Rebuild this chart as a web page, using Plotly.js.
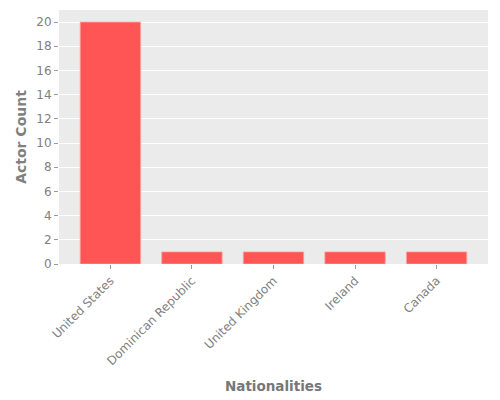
<!DOCTYPE html>
<html>
<head>
<script src="https://cdn.plot.ly/plotly-3.0.1.min.js"></script>
<style>body{margin:0;padding:0;}#chart{width:500px;height:400px;}</style>
</head>
<body>
<div id="chart"></div>
<script>
const nationalities = ["United States", "Dominican Republic", "United Kingdom", "Ireland", "Canada"];
const actorCounts = [20, 1, 1, 1, 1];

const trace = {
  type: "bar",
  x: nationalities,
  y: actorCounts,
  width: 0.74,
  marker: {color: "#ff5555", line: {color: "rgba(255,160,160,0.8)", width: 1}},
  hoverinfo: "skip"
};

const layout = {
  width: 500, height: 400,
  margin: {l: 59, r: 12, t: 10, b: 136},
  paper_bgcolor: "#ffffff",
  plot_bgcolor: "#ebebeb",
  font: {family: "DejaVu Sans", color: "#808080", size: 12},
  showlegend: false,
  xaxis: {
    type: "category",
    range: [-0.63, 4.63],
    tickangle: -45,
    ticks: "outside", ticklen: 4, tickcolor: "#999999",
    showgrid: false, zeroline: false, showline: false,
    tickfont: {size: 12, color: "#808080"},
    title: {text: "Nationalities", font: {size: 13.5, color: "#777777", weight: "bold"}, standoff: 14}
  },
  yaxis: {
    range: [0, 21],
    dtick: 2,
    ticks: "outside", ticklen: 4, tickcolor: "#999999",
    gridcolor: "#ffffff", gridwidth: 1,
    zeroline: false, showline: false,
    tickfont: {size: 12, color: "#808080"},
    title: {text: "Actor Count", font: {size: 14, color: "#808080", weight: "bold"}, standoff: 6}
  }
};

Plotly.newPlot("chart", [trace], layout, {displayModeBar: false, staticPlot: true});
</script>
</body>
</html>
